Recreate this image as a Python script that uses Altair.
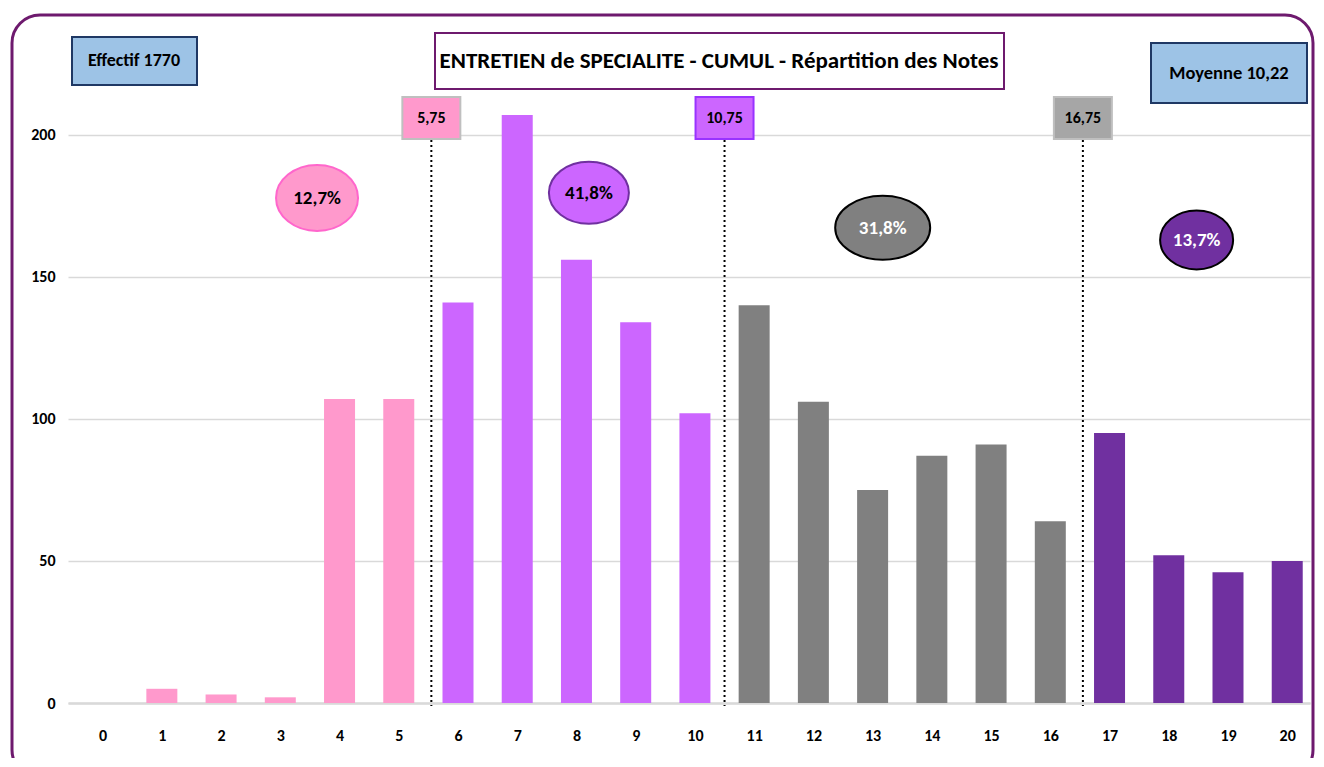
import altair as alt
import pandas as pd

# ---------------- data ----------------
notes = list(range(21))
effectifs = [0, 5, 3, 2, 107, 107, 141, 207, 156, 134, 102,
             140, 106, 75, 87, 91, 64, 95, 52, 46, 50]
groupe = ["A"] * 6 + ["B"] * 5 + ["C"] * 6 + ["D"] * 4

pct_groupes = ["A", "B", "C", "D"]
pct_labels = ["12,7%", "41,8%", "31,8%", "13,7%"]
pct_x = [3.62, 8.21, 13.17, 18.47]
pct_y = [177.8, 179.6, 167.3, 163.0]

seuil_x = [5.55, 10.5, 16.55]
seuil_labels = ["5,75", "10,75", "16,75"]
seuil_ids = ["s1", "s2", "s3"]

effectif_txt = "Effectif 1770"
moyenne_txt = "Moyenne 10,22"
titre_txt = "ENTRETIEN  de SPECIALITE  - CUMUL - Répartition des Notes"

# ---------------- styles ----------------
FONT = "Carlito, Lato, sans-serif"
grp_colors = ["#FF99CC", "#CC66FF", "#808080", "#7030A0"]
ell_strokes = ["#FF66CC", "#7030A0", "#000000", "#000000"]
ell_w = [82, 80, 95, 73]
ell_h = [66, 62, 64, 59]
seuil_fill = ["#FF99CC", "#CC66FF", "#A6A6A6"]
seuil_stroke = ["#BFBFBF", "#9933FF", "#BFBFBF"]
seuil_box_dx = [-5, -5, -8]

W, H = 1242, 625
XDOM = [-0.5, 20.3]
YDOM = [0, 220]


def ellipse_path(ratio):
    return f"M -1 0 A 1 {ratio:.3f} 0 1 1 1 0 A 1 {ratio:.3f} 0 1 1 -1 0 Z"


bars_df = pd.DataFrame({"note": notes, "n": effectifs, "grp": groupe})
pct_df = pd.DataFrame({"grp": pct_groupes, "lab": pct_labels, "x": pct_x, "y": pct_y,
                       "sz": [w * w for w in ell_w]})
seuil_df = pd.DataFrame({"id": seuil_ids, "x": seuil_x, "lab": seuil_labels,
                         "dx": seuil_box_dx})

xs = alt.Scale(domain=XDOM, nice=False, zero=False)
ys = alt.Scale(domain=YDOM, nice=False)

# outer rounded frame
frame = alt.Chart(pd.DataFrame({"a": [0]})).mark_rect(
    fill="white", fillOpacity=0, stroke="#6E1A6E", strokeWidth=3, cornerRadius=28
).encode(x=alt.value(-56), x2=alt.value(1245), y=alt.value(-63), y2=alt.value(700))

bars = alt.Chart(bars_df).mark_bar(size=31).encode(
    x=alt.X("note:Q", scale=xs,
            axis=alt.Axis(values=notes, format="d", grid=False, ticks=False,
                          domainColor="#D9D9D9", domainWidth=2.5, labelPadding=24,
                          labelFontSize=16, labelFontWeight="bold", labelFont=FONT,
                          labelColor="black", title=None)),
    y=alt.Y("n:Q", scale=ys,
            axis=alt.Axis(values=[0, 50, 100, 150, 200], domain=False, ticks=False,
                          gridColor="#D9D9D9", gridWidth=1.5, labelPadding=13,
                          labelFontSize=16, labelFontWeight="bold", labelFont=FONT,
                          labelColor="black", title=None)),
    color=alt.Color("grp:N", scale=alt.Scale(domain=pct_groupes, range=grp_colors), legend=None),
)

rules = alt.Chart(seuil_df).mark_rule(
    color="black", strokeWidth=2, strokeDash=[2, 3]
).encode(x=alt.X("x:Q", scale=xs), y=alt.value(62), y2=alt.value(628))

box_path = "M -1 -0.72 L 1 -0.72 L 1 0.72 L -1 0.72 Z"
seuil_boxes = alt.Chart(seuil_df).mark_point(
    shape=box_path, size=58 * 58, filled=True, opacity=1, strokeWidth=2
).encode(
    x=alt.X("x:Q", scale=xs),
    y=alt.value(40),
    xOffset=alt.XOffset("dx:Q", scale=None),
    fill=alt.Fill("id:N", scale=alt.Scale(domain=seuil_ids, range=seuil_fill), legend=None),
    stroke=alt.Stroke("id:N", scale=alt.Scale(domain=seuil_ids, range=seuil_stroke), legend=None),
)
seuil_text = alt.Chart(seuil_df).mark_text(
    font=FONT, fontSize=16, fontWeight="bold", color="black", baseline="middle"
).encode(x=alt.X("x:Q", scale=xs), y=alt.value(40), xOffset=alt.XOffset("dx:Q", scale=None),
         text="lab:N")

ellipses = alt.Chart(pct_df).mark_point(filled=True, opacity=1, strokeWidth=2).encode(
    x=alt.X("x:Q", scale=xs),
    y=alt.Y("y:Q", scale=ys),
    size=alt.Size("sz:Q", scale=None, legend=None),
    shape=alt.Shape("grp:N", scale=alt.Scale(domain=pct_groupes,
                    range=[ellipse_path(h / w) for w, h in zip(ell_w, ell_h)]), legend=None),
    fill=alt.Fill("grp:N", scale=alt.Scale(domain=pct_groupes, range=grp_colors), legend=None),
    stroke=alt.Stroke("grp:N", scale=alt.Scale(domain=pct_groupes, range=ell_strokes), legend=None),
)
pct_black = alt.Chart(pct_df).transform_filter(
    alt.FieldOneOfPredicate(field="grp", oneOf=["A", "B"])
).mark_text(font=FONT, fontSize=19, fontWeight="bold", color="black", baseline="middle").encode(
    x=alt.X("x:Q", scale=xs), y=alt.Y("y:Q", scale=ys), text="lab:N")
pct_white = alt.Chart(pct_df).transform_filter(
    alt.FieldOneOfPredicate(field="grp", oneOf=["C", "D"])
).mark_text(font=FONT, fontSize=19, fontWeight="bold", color="white", baseline="middle").encode(
    x=alt.X("x:Q", scale=xs), y=alt.Y("y:Q", scale=ys), text="lab:N")

one = pd.DataFrame({"a": [0]})
eff_box = alt.Chart(one).mark_rect(fill="#9DC3E6", stroke="#1F3864", strokeWidth=2).encode(
    x=alt.value(4), x2=alt.value(129), y=alt.value(-41), y2=alt.value(7))
eff_text = alt.Chart(one).mark_text(font=FONT, fontSize=18, fontWeight="bold", color="black",
                                     baseline="middle", text=effectif_txt).encode(
    x=alt.value(66), y=alt.value(-17))
moy_box = alt.Chart(one).mark_rect(fill="#9DC3E6", stroke="#1F3864", strokeWidth=2).encode(
    x=alt.value(1083), x2=alt.value(1239), y=alt.value(-35), y2=alt.value(25))
moy_text = alt.Chart(one).mark_text(font=FONT, fontSize=18.5, fontWeight="bold", color="black",
                                     baseline="middle", text=moyenne_txt).encode(
    x=alt.value(1161), y=alt.value(-5))
tit_box = alt.Chart(one).mark_rect(fill="white", stroke="#6E1A6E", strokeWidth=2).encode(
    x=alt.value(367), x2=alt.value(936), y=alt.value(-45), y2=alt.value(11))
tit_text = alt.Chart(one).mark_text(font=FONT, fontSize=23, fontWeight="bold", color="black",
                                     baseline="middle", text=titre_txt).encode(
    x=alt.value(651), y=alt.value(-17))

chart = alt.layer(
    frame, bars, rules, seuil_boxes, seuil_text, ellipses, pct_black, pct_white,
    eff_box, eff_text, moy_box, moy_text, tit_box, tit_text
).resolve_scale(
    fill="independent", stroke="independent", shape="independent"
).properties(
    width=W, height=H,
    autosize=alt.AutoSizeParams(type="none"),
    padding={"left": 60, "top": 70, "right": 6, "bottom": 55},
    background="white",
).configure_view(stroke=None)

chart.save("out.html", embed_options={"renderer": "svg", "actions": False})
